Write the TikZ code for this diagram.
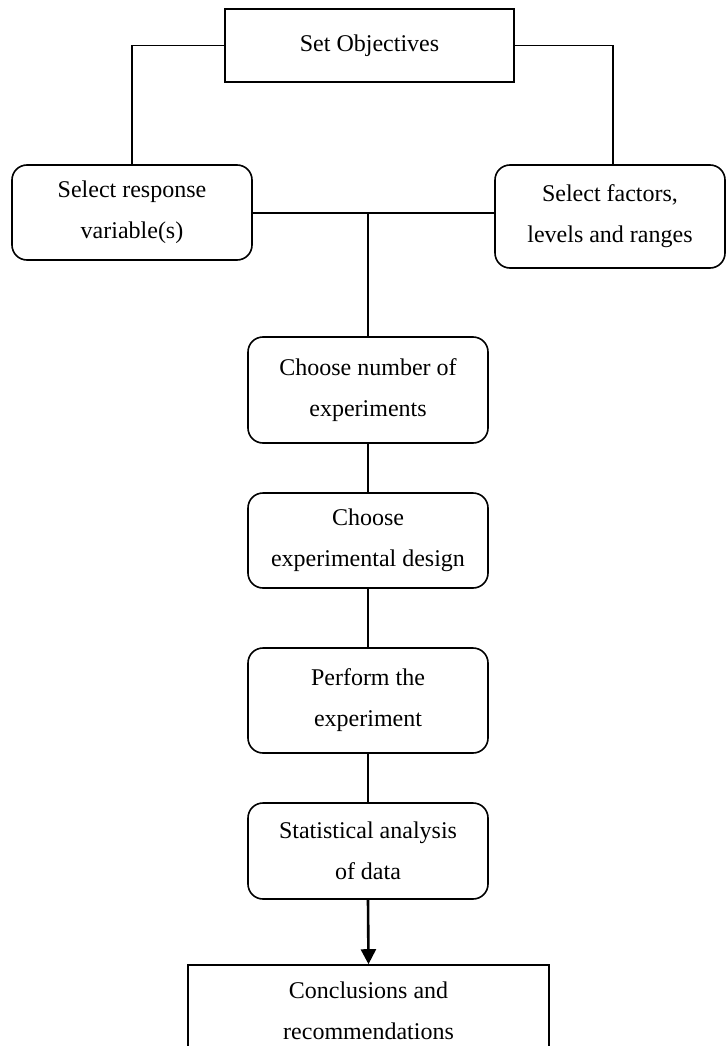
\documentclass[tikz,border=0pt]{standalone}
\usepackage{fontspec}
\setmainfont{Liberation Serif}
\usetikzlibrary{arrows.meta}
\begin{document}
\begin{tikzpicture}[x=1pt,y=-1pt,
  every node/.style={font=\fontsize{24}{41}\selectfont, align=center, inner sep=0pt, line width=1.6pt},
  sqbox/.style={draw, rectangle},
  rbox/.style={draw, rectangle, rounded corners=15pt},
  conn/.style={line width=1.6pt},
  arr/.style={line width=2.6pt, -{Triangle[width=15pt,length=15pt]}}]
\useasboundingbox (0,0) rectangle (727,1046);
\clip (0,0) rectangle (727,1046);
\node[sqbox, minimum width=289pt, minimum height=73pt] (obj) at (369.5,45.5) {Set Objectives};
\node[rbox, minimum width=240pt, minimum height=95pt] (resp) at (132,212.5) {Select response\\variable(s)};
\node[rbox, minimum width=230pt, minimum height=103pt] (fact) at (610,216.5) {Select factors,\\levels and ranges};
\node[rbox, minimum width=240pt, minimum height=106pt] (num) at (368,390) {Choose number of\\experiments};
\node[rbox, minimum width=240pt, minimum height=95pt] (des) at (368,540.5) {Choose\\experimental design};
\node[rbox, minimum width=240pt, minimum height=105pt] (perf) at (368,700.5) {Perform the\\experiment};
\node[rbox, minimum width=240pt, minimum height=96pt] (stat) at (368,851) {Statistical analysis\\of data};
\node[sqbox, minimum width=361pt, minimum height=92pt] (conc) at (368.5,1011) {Conclusions and\\recommendations};
\coordinate (j) at (368,213);
\draw[conn] (obj.west) -| (resp.north);
\draw[conn] (obj.east) -| ([xshift=3pt]fact.north);
\draw[conn] (resp.east |- j) -- (j -| fact.west);
\draw[conn] (j) -- (num.north);
\draw[conn] (num.south) -- (des.north);
\draw[conn] (des.south) -- (perf.north);
\draw[conn] (perf.south) -- (stat.north);
\draw[arr] (stat.south) -- (conc.north);
\end{tikzpicture}
\end{document}
